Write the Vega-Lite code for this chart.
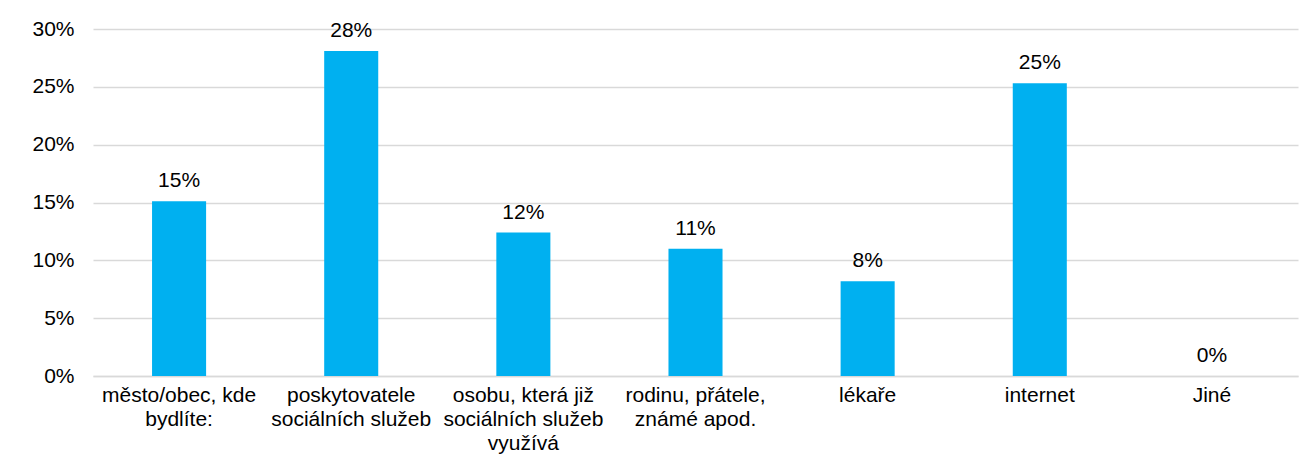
{
  "$schema": "https://vega.github.io/schema/vega-lite/v6.json",
  "width": 1205,
  "height": 347,
  "autosize": {"type": "none"},
  "padding": {"left": 93, "top": 29, "right": 15, "bottom": 81},
  "background": "white",
  "config": {"view": {"stroke": null}, "font": "Liberation Sans"},
  "data": {"values": [
    {"cat": "město/obec, kde\nbydlíte:", "v": 0.151, "lbl": "15%"},
    {"cat": "poskytovatele\nsociálních služeb", "v": 0.281, "lbl": "28%"},
    {"cat": "osobu, která již\nsociálních služeb\nvyužívá", "v": 0.124, "lbl": "12%"},
    {"cat": "rodinu, přátele,\nznámé apod.", "v": 0.110, "lbl": "11%"},
    {"cat": "lékaře", "v": 0.082, "lbl": "8%"},
    {"cat": "internet", "v": 0.253, "lbl": "25%"},
    {"cat": "Jiné", "v": 0.0, "lbl": "0%"}
  ]},
  "encoding": {
    "x": {"field": "cat", "type": "nominal", "sort": null,
      "scale": {"paddingInner": 0.686, "paddingOuter": 0.343},
      "axis": {"title": null, "labelAngle": 0, "labelExpr": "split(datum.label, '\\n')",
        "labelFontSize": 21, "labelLineHeight": 24, "labelColor": "#000000", "labelFont": "Liberation Sans",
        "ticks": false, "domainColor": "#d9d9d9", "domainWidth": 1.5, "labelPadding": 8, "labelBaseline": "top", "labelLimit": 300, "labelOverlap": false}},
    "y": {"field": "v", "type": "quantitative",
      "scale": {"domain": [0, 0.3]},
      "axis": {"title": null, "format": ".0%", "values": [0, 0.05, 0.1, 0.15, 0.2, 0.25, 0.3], "labelOverlap": false,
        "labelFontSize": 21, "labelColor": "#000000", "labelFont": "Liberation Sans", "labelPadding": 19,
        "ticks": false, "domain": false, "gridColor": "#d9d9d9", "gridWidth": 1.5}}
  },
  "layer": [
    {"mark": {"type": "bar", "color": "#00b0f0"}},
    {"mark": {"type": "text", "dy": -20, "fontSize": 21, "color": "#000000", "font": "Liberation Sans"},
     "encoding": {"text": {"field": "lbl"}}}
  ]
}
